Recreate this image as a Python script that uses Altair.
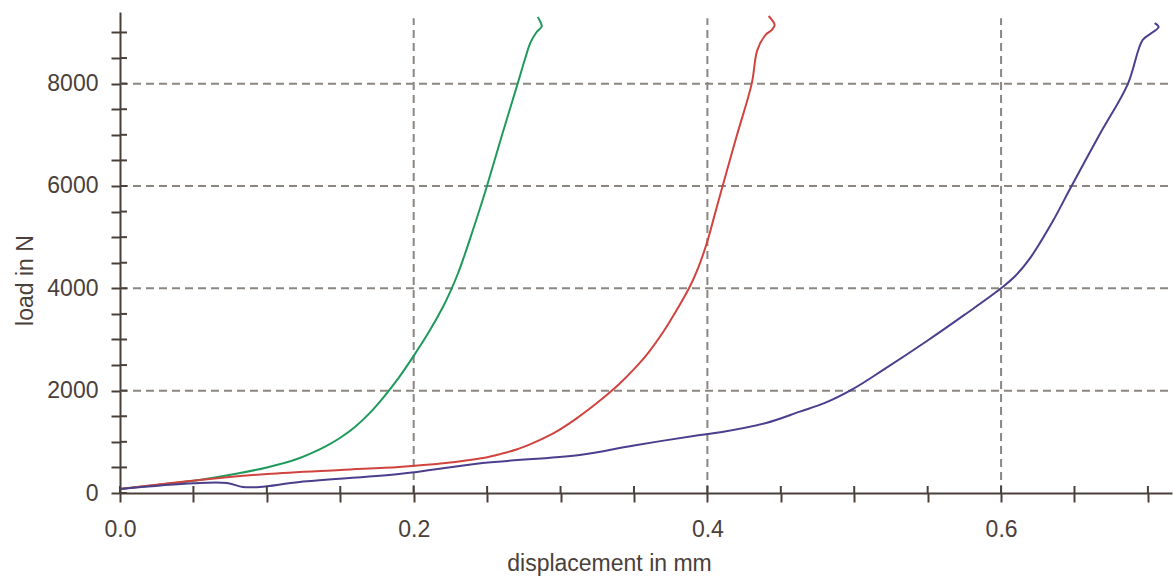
import altair as alt
import pandas as pd

# ---- data ----
green_x = [0.0, 0.03, 0.054, 0.08, 0.1, 0.12, 0.13, 0.14, 0.15, 0.16, 0.17, 0.18, 0.19, 0.2,
           0.21, 0.22, 0.225, 0.23, 0.235, 0.24, 0.245, 0.2497, 0.26, 0.2708, 0.276, 0.2795,
           0.2835, 0.2872, 0.2855, 0.2844]
green_y = [78, 170, 254, 380, 500, 660, 775, 910, 1080, 1290, 1560, 1890, 2260, 2680,
           3130, 3640, 3940, 4280, 4680, 5110, 5550, 5980, 6980, 8000, 8500, 8800,
           9000, 9120, 9250, 9302]

red_x = [0.0, 0.054, 0.1, 0.15, 0.19, 0.22, 0.247, 0.26, 0.27, 0.28, 0.29, 0.3, 0.31, 0.32,
         0.33, 0.34, 0.35, 0.36, 0.37, 0.38, 0.388, 0.394, 0.4, 0.405, 0.41, 0.42, 0.4302,
         0.434, 0.4395, 0.4438, 0.4458, 0.4417]
red_y = [78, 254, 371, 450, 508, 580, 684, 770, 850, 960, 1090, 1250, 1440, 1650,
         1880, 2130, 2420, 2750, 3150, 3620, 4030, 4420, 4920, 5440, 5960, 6980, 8000,
         8656, 8950, 9047, 9145, 9321]

blue_x = [0.0, 0.05, 0.0728, 0.0836, 0.0951, 0.1224, 0.19, 0.247, 0.313, 0.35, 0.395,
          0.41, 0.44, 0.463, 0.48, 0.499, 0.52, 0.55, 0.575, 0.6, 0.61, 0.62, 0.635, 0.648,
          0.667, 0.6863, 0.6964, 0.7025, 0.7073, 0.7046]
blue_y = [78, 190, 195, 117, 117, 215, 371, 586, 743, 930, 1133,
          1192, 1368, 1590, 1760, 2030, 2410, 2980, 3480, 4000, 4250, 4600, 5300, 6000,
          7000, 7992, 8852, 8988, 9106, 9184]

series_names = ["specimen 1", "specimen 2", "specimen 3"]
series_colors = ["#1f9a5c", "#d0433f", "#4b3f8d"]

x_tick_values = [round(0.05 * i, 2) for i in range(15)]
y_tick_values = [500 * i for i in range(19)]
x_grid_values = [0.2, 0.4, 0.6]
y_grid_values = [2000, 4000, 6000, 8000]

X_MAX = 0.7164
Y_MAX = 9400
GRID_TOP = 9280

rows = []
for name, xs, ys in zip(series_names, [green_x, red_x, blue_x], [green_y, red_y, blue_y]):
    for i, (xv, yv) in enumerate(zip(xs, ys)):
        rows.append({"series": name, "i": i, "disp": xv, "load": yv})
df = pd.DataFrame(rows)

W, H = 1052, 481
FONT = "Liberation Sans, Arial, sans-serif"
FS = 23
AX = "#4a403a"
GRID = "#8c8681"

xscale = alt.Scale(domain=[0, X_MAX], nice=False, zero=False)
yscale = alt.Scale(domain=[0, Y_MAX], nice=False, zero=False)

x_axis = alt.Axis(
    values=x_tick_values,
    labelExpr="abs(datum.value*5 - round(datum.value*5)) < 1e-6 ? format(datum.value, '.1f') : ''",
    grid=False, tickSize=9, labelPadding=16, domainWidth=2, tickWidth=2,
    domainColor=AX, tickColor=AX, labelColor=AX, titleColor=AX,
    labelFont=FONT, titleFont=FONT, labelFontSize=FS, titleFontSize=FS,
    titleFontWeight="normal", title="displacement in mm",
    titleX=489, titleY=77, titleBaseline="alphabetic", titleAlign="center",
    labelFlush=False, labelOverlap=False,
)
y_axis = alt.Axis(
    values=y_tick_values,
    labelExpr="datum.value % 2000 === 0 ? format(datum.value, 'd') : ''",
    grid=False, tickSize=9, labelPadding=13, domainWidth=2, tickWidth=2,
    domainColor=AX, tickColor=AX, labelColor=AX, titleColor=AX,
    labelFont=FONT, titleFont=FONT, labelFontSize=FS, titleFontSize=FS,
    titleFontWeight="normal", title="load in N",
    titleX=-88, titleY=268, titleBaseline="alphabetic", titleAlign="center", titleAngle=270,
    labelFlush=False, labelOverlap=False,
)

lines = alt.Chart(df).mark_line(strokeWidth=2, interpolate="catmull-rom").encode(
    x=alt.X("disp:Q", scale=xscale, axis=x_axis),
    y=alt.Y("load:Q", scale=yscale, axis=y_axis),
    color=alt.Color("series:N", scale=alt.Scale(domain=series_names, range=series_colors), legend=None),
    order=alt.Order("i:Q"),
    detail="series:N",
)

vgrid = alt.Chart(pd.DataFrame({"x": x_grid_values})).transform_calculate(
    y0="0", y1=str(GRID_TOP)
).mark_rule(color=GRID, strokeWidth=2, strokeDash=[8, 5]).encode(
    x=alt.X("x:Q", scale=xscale, axis=x_axis),
    y=alt.Y("y0:Q", scale=yscale, axis=y_axis),
    y2="y1:Q",
)

hgrid = alt.Chart(pd.DataFrame({"y": y_grid_values})).transform_calculate(
    x0="0", x1=str(X_MAX)
).mark_rule(color=GRID, strokeWidth=2, strokeDash=[8, 5]).encode(
    y=alt.Y("y:Q", scale=yscale, axis=y_axis),
    x=alt.X("x0:Q", scale=xscale, axis=x_axis),
    x2="x1:Q",
)

# inward halves of the crossing ticks
xticks_in = alt.Chart(pd.DataFrame({"x": x_tick_values})).mark_rule(color=AX, strokeWidth=2).encode(
    x=alt.X("x:Q", scale=xscale, axis=x_axis),
    y=alt.value(H - 7), y2=alt.value(H),
)
yticks_in = alt.Chart(pd.DataFrame({"y": y_tick_values})).mark_rule(color=AX, strokeWidth=2).encode(
    y=alt.Y("y:Q", scale=yscale, axis=y_axis),
    x=alt.value(0), x2=alt.value(7),
)

chart = alt.layer(vgrid, hgrid, lines, xticks_in, yticks_in).properties(
    width=W, height=H,
    autosize=alt.AutoSizeParams(type="none"),
    padding={"left": 120, "top": 12, "right": 1, "bottom": 86},
    background="white",
).configure_view(stroke=None)

chart.save("out.html", embed_options={"renderer": "svg", "actions": False})
